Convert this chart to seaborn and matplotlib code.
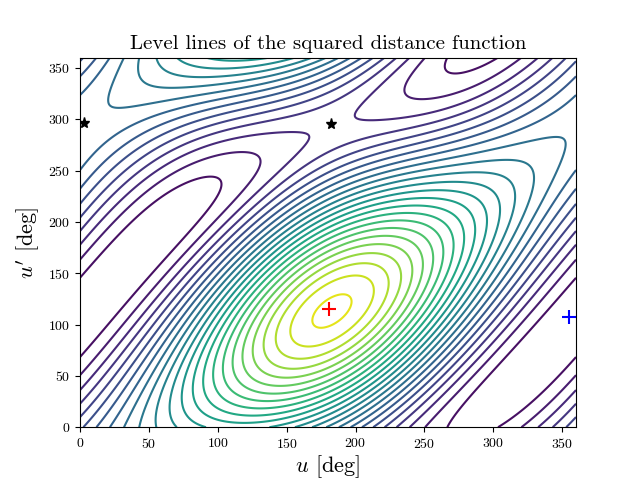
import numpy as np
import matplotlib
matplotlib.use("Agg")
import matplotlib.pyplot as plt
import seaborn as sns

# orbit parameters (a, e, omega[deg], inclination[deg])
orbit1 = [1.5, 0.4, 0.0, 0.0]
orbit2 = [1.0, 0.05, 250.0, 10.0]
# critical points (u, u') in degrees
max_pt = [181, 115]
min_pt = [355, 107]
saddle_u = [3, 182]
saddle_up = [296, 295]
n_levels = 30

sns.set_style("ticks")
plt.rcParams.update({"font.family": "serif", "font.serif": ["cmr10"],
                     "mathtext.fontset": "cm", "axes.formatter.use_mathtext": True,
                     "text.color": "black", "axes.labelcolor": "black",
                     "xtick.color": "black", "ytick.color": "black",
                     "axes.edgecolor": "black"})

def pos(orb, E):
    a, e, w, inc = orb
    x = a * (np.cos(E) - e)
    y = a * np.sqrt(1 - e**2) * np.sin(E)
    w, inc = np.radians(w), np.radians(inc)
    X = x * np.cos(w) - y * np.sin(w)
    Y = (x * np.sin(w) + y * np.cos(w))
    return X, Y * np.cos(inc), Y * np.sin(inc)

u = np.linspace(0, 360, 361)
U, UP = np.meshgrid(u, u)
p1 = pos(orbit1, np.radians(U))
p2 = pos(orbit2, np.radians(UP))
D = sum((a - b) ** 2 for a, b in zip(p1, p2))

fig, ax = plt.subplots(figsize=(6.4, 4.8), dpi=100)
ax.contour(U, UP, D, levels=n_levels, cmap=sns.color_palette("viridis", as_cmap=True), linewidths=1.5)
ax.plot(*max_pt, "r+", ms=10, mew=1.5)
ax.plot(*min_pt, "b+", ms=10, mew=1.5)
ax.plot(saddle_u, saddle_up, "k*", ms=8, ls="none")
ax.set_xlim(0, 360); ax.set_ylim(0, 360)
ax.set_xticks(range(0, 351, 50)); ax.set_yticks(range(0, 351, 50))
ax.set_xlabel(r"$u$ [deg]", fontsize=16, labelpad=2)
ax.set_ylabel(r"$u'$ [deg]", fontsize=16)
ax.set_title("Level lines of the squared distance function", fontsize=15)
fig.savefig("out.png")
